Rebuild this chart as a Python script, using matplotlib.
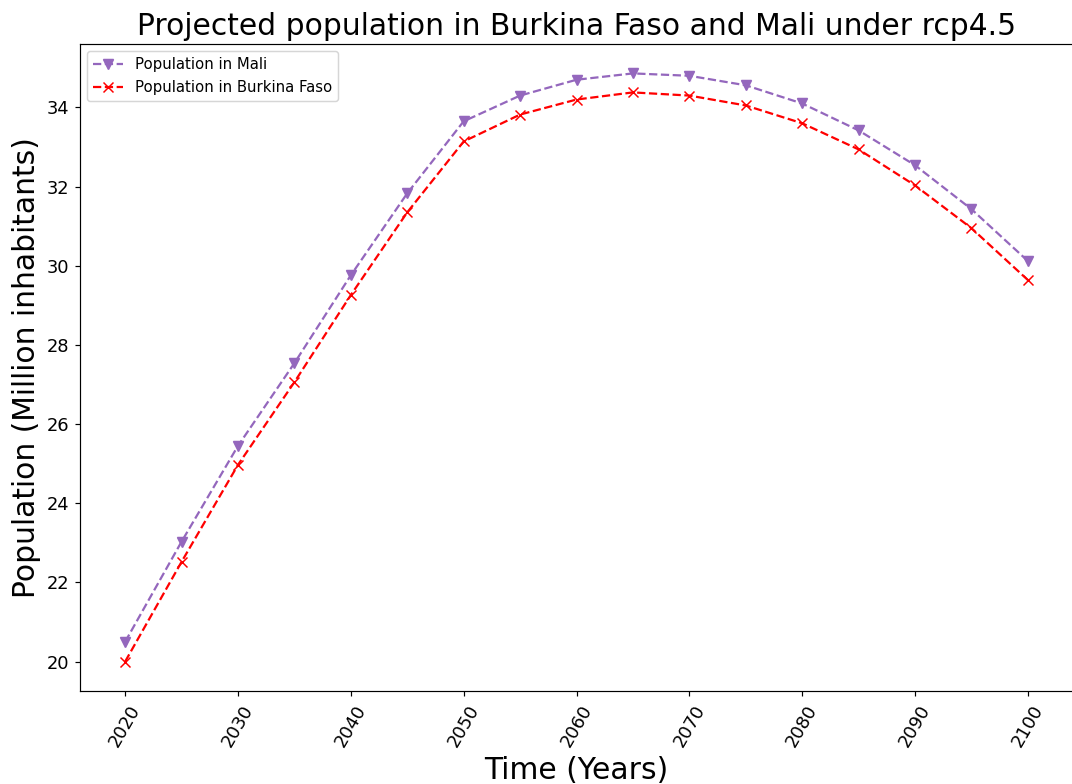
import matplotlib.pyplot as plt
import numpy as np

years = np.arange(2020, 2101, 5)
pop_mali = [20.5, 23.03, 25.45, 27.54, 29.76, 31.83, 33.65, 34.3, 34.7,
            34.86, 34.8, 34.56, 34.1, 33.42, 32.54, 31.43, 30.12]
pop_burkina = [20.0, 22.52, 24.97, 27.06, 29.26, 31.35, 33.14, 33.82, 34.2,
               34.38, 34.3, 34.05, 33.6, 32.94, 32.03, 30.95, 29.64]

dpi = 107
fig = plt.figure(figsize=(1072 / dpi, 784 / dpi), dpi=dpi)
ax = fig.add_axes([80 / 1072, 1 - 691 / 784, 993 / 1072, 647 / 784])
ax.plot(years, pop_mali, '--v', color='tab:purple', markersize=7, label='Population in Mali')
ax.plot(years, pop_burkina, '--x', color='red', markersize=7, label='Population in Burkina Faso')
ax.set_xticks(np.arange(2020, 2101, 10))
ax.tick_params(axis='x', rotation=60, labelsize=12)
ax.tick_params(axis='y', labelsize=12)
ax.set_title('Projected population in Burkina Faso and Mali under rcp4.5', fontsize=20)
ax.set_xlabel('Time (Years)', fontsize=20)
ax.set_ylabel('Population (Million inhabitants)', fontsize=20)
ax.legend(loc='upper left', fontsize=10)
fig.savefig('out.png', dpi=dpi)
